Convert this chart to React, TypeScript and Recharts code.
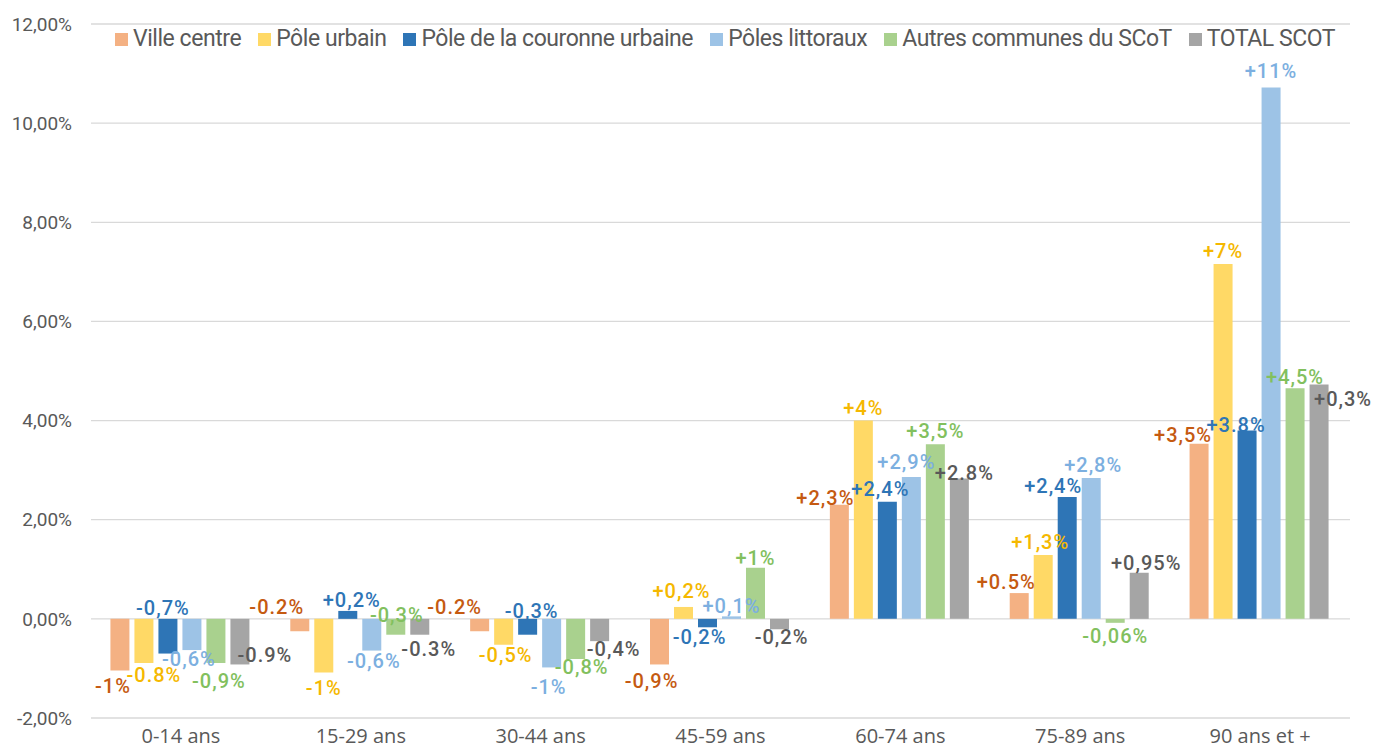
import React from "react";
import { BarChart, Bar, XAxis, YAxis, CartesianGrid, LabelList } from "recharts";

const categories = ["0-14 ans", "15-29 ans", "30-44 ans", "45-59 ans", "60-74 ans", "75-89 ans", "90 ans et +"];

const villeCentre = [-1.04, -0.25, -0.25, -0.92, 2.3, 0.52, 3.53];
const poleUrbain = [-0.89, -1.08, -0.52, 0.24, 4.0, 1.29, 7.16];
const couronne = [-0.7, 0.16, -0.32, -0.17, 2.36, 2.46, 3.8];
const littoraux = [-0.63, -0.64, -0.98, 0.05, 2.86, 2.84, 10.72];
const autres = [-0.89, -0.32, -0.81, 1.03, 3.52, -0.08, 4.65];
const totalScot = [-0.92, -0.32, -0.45, -0.21, 2.83, 0.93, 4.73];

const villeLabels = ["-1%", "-0.2%", "-0.2%", "-0,9%", "+2,3%", "+0.5%", "+3,5%"];
const poleLabels = ["-0.8%", "-1%", "-0,5%", "+0,2%", "+4%", "+1,3%", "+7%"];
const couronneLabels = ["-0,7%", "+0,2%", "-0,3%", "-0,2%", "+2,4%", "+2,4%", "+3.8%"];
const littorauxLabels = ["-0,6%", "-0,6%", "-1%", "+0,1%", "+2,9%", "+2,8%", "+11%"];
const autresLabels = ["-0,9%", "-0,3%", "-0,8%", "+1%", "+3,5%", "-0,06%", "+4,5%"];
const totalLabels = ["-0.9%", "-0.3%", "-0,4%", "-0,2%", "+2.8%", "+0,95%", "+0,3%"];

const yTicks = [-2, 0, 2, 4, 6, 8, 10, 12];

// manual label placement tweaks (dx, dy in px), as in the original chart
const villeNudge = [[-7, 3], [-23, -37], [-25, -37], [-8, 4], [-14, 6], [-13, 2], [-16, 4]];
const poleNudge = [[10, -1], [0, 3], [2, -3], [-2, -3], [0, 0], [-3, 0], [0, 0]];
const couronneNudge = [[-5, -59], [4, 2], [4, -37], [-8, -3], [-7, 0], [-14, 2], [-11, 8]];
const littorauxNudge = [[-3, -4], [2, -3], [-3, 7], [0, 3], [-5, -2], [2, 0], [0, -3]];
const autresNudge = [[3, 5], [1, -33], [6, -5], [0, 3], [0, 0], [0, 0], [0, 2]];
const totalNudge = [[25, -22], [9, 1], [14, -5], [2, -5], [5, 7], [7, 3], [24, 28]];

const seriesDefs = [
  { key: "ville", name: "Ville centre", values: villeCentre, labels: villeLabels, nudge: villeNudge, fill: "#F4B183", text: "#C55A11" },
  { key: "pole", name: "Pôle urbain", values: poleUrbain, labels: poleLabels, nudge: poleNudge, fill: "#FFD966", text: "#F5B800" },
  { key: "couronne", name: "Pôle de la couronne urbaine", values: couronne, labels: couronneLabels, nudge: couronneNudge, fill: "#2E75B6", text: "#2E75B6" },
  { key: "littoraux", name: "Pôles littoraux", values: littoraux, labels: littorauxLabels, nudge: littorauxNudge, fill: "#9DC3E6", text: "#7CAFE0" },
  { key: "autres", name: "Autres communes du SCoT", values: autres, labels: autresLabels, nudge: autresNudge, fill: "#A9D18E", text: "#82C05E" },
  { key: "total", name: "TOTAL SCOT", values: totalScot, labels: totalLabels, nudge: totalNudge, fill: "#A5A5A5", text: "#595959" },
];

const data = categories.map((c, i) => {
  const row: Record<string, any> = { category: c };
  seriesDefs.forEach((s) => {
    row[s.key] = s.values[i];
  });
  return row;
});

const makeLabel = (labels: string[], color: string, values: number[], nudge: number[][]) => (props: any) => {
  const { x, y, width, height, index } = props;
  const v = values[index];
  const top = Math.min(y, y + height);
  const bottom = Math.max(y, y + height);
  const [dx, dy] = nudge[index] || [0, 0];
  const cx = x + width / 2 + dx;
  const cy = (v >= 0 ? top - 13 : bottom + 13) + dy;
  return (
    <text x={cx} y={cy + 7} textAnchor="middle" fill={color} fontSize={20} fontWeight={500}
      fontFamily="Roboto, sans-serif" letterSpacing={1}>
      {labels[index]}
    </text>
  );
};

const fmtY = (v: number) => v.toFixed(2).replace(".", ",") + "%";

export default function App() {
  return (
    <div style={{ position: "relative", width: 1375, height: 749, background: "#fff" }}>
      <style>{`body{margin:0;}`}</style>
      <BarChart
        width={1375}
        height={749}
        data={data}
        margin={{ top: 24, right: 25, bottom: 0, left: 0 }}
        barCategoryGap="10.8%"
        barGap={5}
      >
        <CartesianGrid vertical={false} stroke="#d9d9d9" strokeWidth={1.3} />
        <XAxis
          dataKey="category"
          axisLine={false}
          tickLine={false}
          tickSize={0}
          tickMargin={11}
          height={31}
          interval={0}
          tick={{ fill: "#595959", fontSize: 20, fontFamily: "'Open Sans', sans-serif" }}
        />
        <YAxis
          width={91}
          domain={[-2, 12]}
          ticks={yTicks}
          tickFormatter={fmtY}
          axisLine={false}
          tickLine={false}
          tickSize={0}
          tickMargin={19}
          interval={0}
          tick={{ fill: "#595959", fontSize: 19, fontFamily: "Roboto, sans-serif" }}
        />
        {seriesDefs.map((s) => (
          <Bar key={s.key} dataKey={s.key} name={s.name} fill={s.fill} isAnimationActive={false}>
            <LabelList dataKey={s.key} content={makeLabel(s.labels, s.text, s.values, s.nudge)} />
          </Bar>
        ))}
      </BarChart>
      <div
        style={{
          position: "absolute",
          left: 115,
          top: 27,
          display: "flex",
          alignItems: "center",
          gap: 17,
          fontFamily: "Roboto, sans-serif",
          fontSize: 23,
          letterSpacing: -0.45,
          color: "#595959",
          lineHeight: "24px",
          whiteSpace: "nowrap",
        }}
      >
        {seriesDefs.map((s) => (
          <div key={s.key} style={{ display: "flex", alignItems: "center", gap: 5 }}>
            <span style={{ display: "inline-block", width: 13, height: 13, background: s.fill }} />
            <span>{s.name}</span>
          </div>
        ))}
      </div>
    </div>
  );
}
